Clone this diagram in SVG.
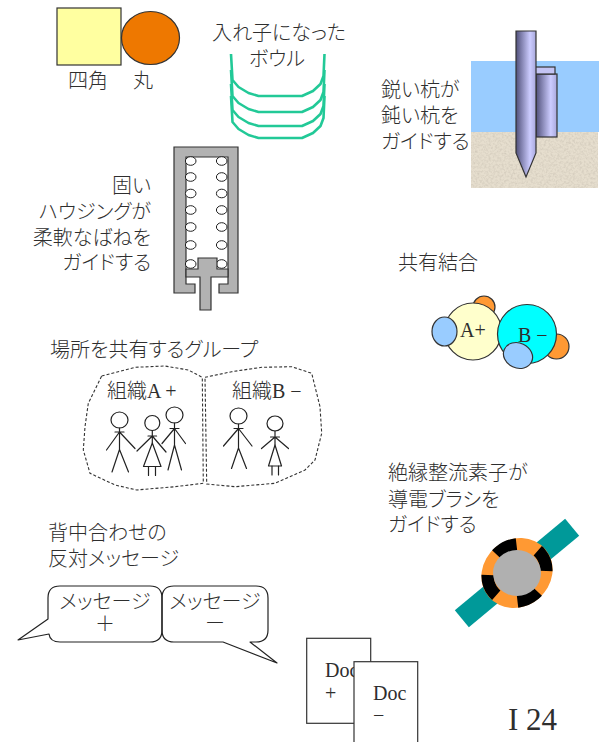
<svg xmlns="http://www.w3.org/2000/svg" width="599" height="742" viewBox="0 0 599 742">
  <style>
    .t { font-family: "Liberation Serif", "Noto Sans CJK JP", serif; font-size: 20px; fill: #2e2e2e; font-weight: 300; font-feature-settings: "palt"; }
    .big { font-size: 31px; }
    .ln { fill: none; stroke: #222; stroke-width: 1.2; stroke-linecap: round; stroke-linejoin: round; }
    .head { fill: #fff; stroke: #222; stroke-width: 1.2; }
    .dash { fill: none; stroke: #333; stroke-width: 1.1; stroke-dasharray: 3 2; }
    .bowl { fill: none; stroke: #22c997; stroke-width: 2.6; stroke-linejoin: round; }
    .spring { fill: #fff; stroke: #222; stroke-width: 1; }
    .edge { stroke: #333; stroke-width: 1.2; }
  </style>
  <defs>
    <linearGradient id="steel" x1="0" y1="0" x2="1" y2="0">
      <stop offset="0" stop-color="#50507a"/>
      <stop offset="0.7" stop-color="#ccccff"/>
      <stop offset="1" stop-color="#a8a8dc"/>
    </linearGradient>
    <filter id="grain" x="0" y="0" width="100%" height="100%">
      <feTurbulence type="fractalNoise" baseFrequency="0.45" numOctaves="3" seed="7"/>
      <feColorMatrix type="matrix" values="0 0 0 0 0.55  0 0 0 0 0.5  0 0 0 0 0.42  1.1 0 0 0 -0.42"/>
      <feComposite in2="SourceGraphic" operator="in"/>
    </filter>
    <polyline id="bowlShape" class="bowl" points="231,54 232.5,80 238.5,87 248.5,93 258.5,96 302,96 313,91 320.5,84 323.5,76 324.5,54"/>
  </defs>

  <rect width="599" height="742" fill="#fff"/>

  <!-- square and circle -->
  <g id="square">
    <rect x="57" y="8" width="64" height="57" fill="#ffffa0" class="edge"/>
    <text class="t" x="68" y="88">四角</text>
  </g>
  <g id="circle">
    <ellipse cx="150.5" cy="38" rx="29" ry="26.5" fill="#ee7800" class="edge"/>
    <text class="t" x="133" y="88">丸</text>
  </g>

  <!-- nested bowls -->
  <g id="bowls">
    <text class="t" x="279" y="40" text-anchor="middle">入れ子になった</text>
    <text class="t" x="277" y="66" text-anchor="middle">ボウル</text>
    <use href="#bowlShape"/>
    <use href="#bowlShape" transform="translate(0,16)"/>
    <use href="#bowlShape" transform="translate(0,30)"/>
    <use href="#bowlShape" transform="translate(0,42)"/>
  </g>

  <!-- stakes in water and sand -->
  <g id="stakes">
    <rect x="471" y="61" width="128" height="71" fill="#99ccff"/>
    <rect x="471" y="132" width="127" height="56" fill="#e6dece"/>
    <rect x="471" y="132" width="127" height="56" fill="#e6dece" filter="url(#grain)"/>
    <rect x="536" y="74" width="21" height="63" fill="url(#steel)" class="edge"/>
    <rect x="535" y="67" width="20" height="7" fill="#c4c4f4" class="edge"/>
    <path d="M516,31 H536 V153 L526,177 L516,153 Z" fill="url(#steel)" class="edge"/>
    <text class="t" x="381" y="97">鋭い杭が</text>
    <text class="t" x="381" y="123">鈍い杭を</text>
    <text class="t" x="381" y="149">ガイドする</text>
  </g>

  <!-- housing with spring -->
  <g id="housing">
    <text class="t" x="151" y="193" text-anchor="end">固い</text>
    <text class="t" x="151" y="218.5" text-anchor="end">ハウジングが</text>
    <text class="t" x="151" y="244.5" text-anchor="end">柔軟なばねを</text>
    <text class="t" x="151" y="269.5" text-anchor="end">ガイドする</text>
    <path d="M174,147 H238 V293 H219 V284 H228 V157 H186 V284 H195 V293 H174 Z" fill="#b2b2b2" class="edge"/>
    <g class="spring">
      <ellipse cx="190.7" cy="161" rx="5.3" ry="4.3"/><ellipse cx="221.7" cy="161" rx="5.3" ry="4.3"/>
      <ellipse cx="190.7" cy="177" rx="5.3" ry="4.3"/><ellipse cx="221.7" cy="177" rx="5.3" ry="4.3"/>
      <ellipse cx="190.7" cy="193.5" rx="5.3" ry="4.3"/><ellipse cx="221.7" cy="193.5" rx="5.3" ry="4.3"/>
      <ellipse cx="190.7" cy="210" rx="5.3" ry="4.3"/><ellipse cx="221.7" cy="210" rx="5.3" ry="4.3"/>
      <ellipse cx="190.7" cy="227" rx="5.3" ry="4.3"/><ellipse cx="221.7" cy="227" rx="5.3" ry="4.3"/>
      <ellipse cx="190.7" cy="245" rx="5.3" ry="4.3"/><ellipse cx="221.7" cy="245" rx="5.3" ry="4.3"/>
      <ellipse cx="190.7" cy="264" rx="5.3" ry="4.3"/><ellipse cx="221.7" cy="264" rx="5.3" ry="4.3"/>
    </g>
    <path d="M198,258 H217 V269 H228 V277 H211 V310 H200 V277 H186 V269 H198 Z" fill="#b2b2b2" class="edge"/>
  </g>

  <!-- covalent bond -->
  <g id="covalent">
    <text class="t" x="398" y="270">共有結合</text>
    <circle cx="484" cy="307" r="11" fill="#ff9933" class="edge"/>
    <circle cx="473" cy="331.5" r="28.5" fill="#ffffcc" class="edge"/>
    <ellipse cx="444.5" cy="331.5" rx="12.5" ry="14.5" fill="#99ccff" class="edge"/>
    <text class="t" x="460" y="337">A+</text>
    <circle cx="556.5" cy="346.5" r="12.5" fill="#ff9933" class="edge"/>
    <circle cx="527" cy="334" r="29.5" fill="#00ffff" class="edge"/>
    <ellipse cx="518" cy="355.5" rx="15" ry="12.5" transform="rotate(25 518 355.5)" fill="#99ccff" class="edge"/>
    <text class="t" x="518" y="342">B −</text>
  </g>

  <!-- groups sharing a place -->
  <g id="groups">
    <text class="t" x="50" y="357">場所を共有するグループ</text>
    <polygon class="dash" points="101.7,376 135,367.3 165,366 188.3,370 202.3,377.3 203.3,483.3 175,486.7 136.7,490 115,485 90,473.3 83.3,450 85,426.7 88.3,403.3"/>
    <polygon class="dash" points="205,377.3 231.7,371.7 261.7,367.3 291.7,366.7 311.7,373.3 320,406.7 321.7,433.3 315,460 305,470 275,483.3 235,486.7 206.7,484"/>
    <text class="t" x="107" y="398">組織A +</text>
    <text class="t" x="232" y="398">組織B −</text>
    <g id="personA1">
      <ellipse class="head" cx="119.5" cy="420" rx="8.5" ry="8"/>
      <path class="ln" d="M119.5,428 V449.5 M115,432 H124 M119.5,432 L106.5,450 M119.5,432 L135,448.5 M119.5,449.5 L112,472 M119.5,449.5 L128.5,472"/>
    </g>
    <g id="personA2">
      <ellipse class="head" cx="152.3" cy="423" rx="7.5" ry="7.5"/>
      <path class="ln" d="M152.3,430.5 V443 M148,436 H156.6 M152.3,436 L137,451 M152.3,436 L166,452 M148.5,466.5 V475.5 M155.5,466.5 V475.5"/>
      <path class="ln" d="M152.3,443 L143.5,466.5 H161 Z" fill="#fff"/>
    </g>
    <g id="personA3">
      <ellipse class="head" cx="174.5" cy="415" rx="8.5" ry="8"/>
      <path class="ln" d="M174.5,423 V445 M170,428.5 H179 M174.5,428.5 L162,443.5 M174.5,428.5 L185.5,443.5 M174.5,445 L168,470 M174.5,445 L181.5,470"/>
    </g>
    <g id="personB1">
      <ellipse class="head" cx="238.5" cy="416" rx="8.5" ry="8"/>
      <path class="ln" d="M238.5,424 V448 M234,428.5 H243 M238.5,428.5 L223.5,446 M238.5,428.5 L252,446 M238.5,448 L231.5,468.5 M238.5,448 L246.5,468.5"/>
    </g>
    <g id="personB2">
      <ellipse class="head" cx="275" cy="423.5" rx="8" ry="7.5"/>
      <path class="ln" d="M275,431 V445 M270.5,437 H279.5 M275,437 L261.5,448.5 M275,437 L288.5,448.5 M272,466 V475 M278.5,466 V475"/>
      <path class="ln" d="M275,445 L268.5,466 H281.5 Z" fill="#fff"/>
    </g>
  </g>

  <!-- rectifier guiding a brush -->
  <g id="brush">
    <text class="t" x="388" y="479.5">絶縁整流素子が</text>
    <text class="t" x="388" y="506.5">導電ブラシを</text>
    <text class="t" x="388" y="531.5">ガイドする</text>
    <g transform="translate(517,573)">
      <rect x="-71.7" y="-11" width="143.4" height="22" fill="#009999" transform="rotate(-39.7)"/>
      <ellipse rx="37" ry="33.5" fill="#ff9933" transform="rotate(-40)"/>
      <ellipse rx="30.5" ry="27.5" fill="none" stroke="#000" stroke-width="12.5" pathLength="360" stroke-dasharray="45 45" stroke-dashoffset="7.5" transform="rotate(-40)"/>
      <ellipse rx="24" ry="23" fill="#b0b0b0"/>
    </g>
  </g>

  <!-- back-to-back speech bubbles -->
  <g id="messages">
    <text class="t" x="48" y="539.5">背中合わせの</text>
    <text class="t" x="48" y="565.5">反対メッセージ</text>
    <g id="msgPlus">
      <path class="ln" fill="#fff" d="M60,586 H150 Q162,586 162,598 V630 Q162,642 150,642 H60 Q50,642 49,634 L18,640 L48,619 V598 Q48,586 60,586 Z"/>
      <text class="t" x="105" y="609" text-anchor="middle">メッセージ</text>
      <text class="t" x="105" y="631" text-anchor="middle">＋</text>
    </g>
    <g id="msgMinus">
      <path class="ln" fill="#fff" d="M174,586 H256 Q268,586 268,598 V630 Q268,642 256,642 H250 L277,663 L223,642 H174 Q162,642 162,630 V598 Q162,586 174,586 Z"/>
      <text class="t" x="215" y="609" text-anchor="middle">メッセージ</text>
      <text class="t" x="215" y="631" text-anchor="middle">ー</text>
    </g>
  </g>

  <!-- documents -->
  <g id="docPlus">
    <rect x="306.7" y="638.3" width="64" height="85" fill="#fff" class="edge"/>
    <text class="t" x="325" y="677">Doc</text>
    <text class="t" x="325" y="700">+</text>
  </g>
  <g id="docMinus">
    <rect x="354" y="661.7" width="63.7" height="90" fill="#fff" class="edge"/>
    <text class="t" x="373" y="700">Doc</text>
    <text class="t" x="373" y="722">−</text>
  </g>

  <text class="t big" x="508" y="730">I 24</text>
</svg>
